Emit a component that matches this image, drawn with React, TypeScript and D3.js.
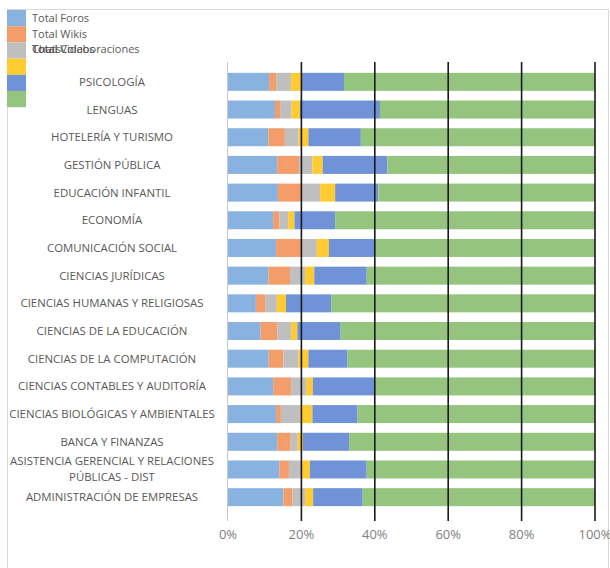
import React from "react";
import * as d3 from "d3";

const categories = [
  "PSICOLOGÍA",
  "LENGUAS",
  "HOTELERÍA Y TURISMO",
  "GESTIÓN PÚBLICA",
  "EDUCACIÓN INFANTIL",
  "ECONOMÍA",
  "COMUNICACIÓN SOCIAL",
  "CIENCIAS JURÍDICAS",
  "CIENCIAS HUMANAS Y RELIGIOSAS",
  "CIENCIAS DE LA EDUCACIÓN",
  "CIENCIAS DE LA COMPUTACIÓN",
  "CIENCIAS CONTABLES Y AUDITORÍA",
  "CIENCIAS BIOLÓGICAS Y AMBIENTALES",
  "BANCA Y FINANZAS",
  "ASISTENCIA GERENCIAL Y RELACIONES|PÚBLICAS - DIST",
  "ADMINISTRACIÓN DE EMPRESAS",
];

const seriesNames = ["Total Foros", "Total Wikis", "Total Colaboraciones", "Total Videos", "Chats", "Otros"];

const foros = [11.2, 12.8, 11.0, 13.4, 13.6, 12.3, 13.1, 11.0, 7.6, 8.9, 11.1, 12.3, 13.1, 13.4, 14.0, 15.1];
const wikis = [1.9, 1.4, 4.5, 6.0, 6.5, 1.7, 7.0, 5.9, 2.5, 4.6, 4.0, 4.9, 1.3, 3.7, 2.6, 2.4];
const colaboraciones = [4.1, 3.1, 3.7, 3.6, 5.0, 2.4, 4.1, 4.1, 3.2, 3.7, 4.1, 4.1, 5.2, 1.9, 3.5, 3.5];
const videos = [2.7, 2.3, 2.7, 2.8, 4.1, 1.7, 3.3, 2.5, 2.5, 1.7, 2.7, 1.8, 3.4, 1.4, 2.2, 2.2];
const chats = [11.7, 21.8, 14.3, 17.6, 11.8, 11.1, 12.4, 14.3, 12.3, 11.8, 10.7, 16.8, 12.3, 12.6, 15.5, 13.5];
const otros = [68.4, 58.6, 63.8, 56.6, 59.0, 70.8, 60.1, 62.2, 71.9, 69.3, 67.4, 60.1, 64.7, 67.0, 62.2, 63.3];

const tickValues = [0, 0.2, 0.4, 0.6, 0.8, 1.0];
const colors = ["#88b3e0", "#f39d6a", "#bfbfbf", "#ffcb30", "#6f93d6", "#94c47e"];

export default function App() {
  const W = 610, H = 568;
  const x0 = 228, x1 = 595;
  const series = [foros, wikis, colaboraciones, videos, chats, otros];
  const table = categories.map((c, i) => {
    const row: any = { cat: c };
    const tot = series.reduce((s, a) => s + a[i], 0);
    series.forEach((a, k) => (row["s" + k] = a[i] / tot));
    return row;
  });
  const keys = series.map((_, k) => "s" + k);
  const stacked = d3.stack().keys(keys)(table);
  const x = d3.scaleLinear().domain([0, 1]).range([x0, x1]);
  const y = d3.scaleBand().domain(categories).range([68, 511]).paddingInner(0.35).paddingOuter(0.175);
  const pct = d3.format(".0%");
  const textColor = "#595959";
  const font = "'Open Sans', 'Noto Sans', sans-serif";

  return (
    <svg width={W} height={H} style={{ position: "absolute", left: 0, top: 0, background: "#fff" }} fontFamily={font}>
      <rect x={7.5} y={9.5} width={601} height={H} fill="#fff" stroke="#d9d9d9" />
      {stacked.map((s, k) => (
        <g key={k} fill={colors[k]}>
          {s.map((d, i) => (
            <rect key={i} x={x(d[0])} y={y(categories[i])} width={x(d[1]) - x(d[0])} height={y.bandwidth()} />
          ))}
        </g>
      ))}
      <line x1={x(0) - 0.5} x2={x(0) - 0.5} y1={62} y2={521} stroke="#c8c8c8" />
      {tickValues.slice(1).map((t) => (
        <line key={t} x1={x(t)} x2={x(t)} y1={62} y2={521} stroke="#1a1a1a" strokeWidth={1.6} />
      ))}
      {tickValues.map((t) => (
        <text key={t} x={x(t)} y={539} textAnchor="middle" fontSize={13} fill="#808080">
          {pct(t)}
        </text>
      ))}
      {categories.map((c) => {
        const parts = c.split("|");
        const cy = (y(c) as number) + y.bandwidth() / 2;
        return parts.map((p, j) => (
          <text key={c + j} x={112} y={cy + 4 + (j - (parts.length - 1) / 2) * 16} textAnchor="middle" fontSize={11.4} fill={textColor}>
            {p}
          </text>
        ));
      })}
      {colors.map((c, k) => (
        <rect key={k} x={7} y={10 + k * 16.2} width={19} height={16.2} fill={c} />
      ))}
      <text x={32} y={22} fontSize={11} fill={textColor}>{seriesNames[0]}</text>
      <text x={32} y={38} fontSize={11} fill={textColor}>{seriesNames[1]}</text>
      <text x={32} y={53} fontSize={11} fill={textColor}>{seriesNames[2]}</text>
      <text x={32} y={53} fontSize={11} fill={textColor}>{seriesNames[3]}</text>
      <text x={32} y={53} fontSize={11} fill={textColor}>{seriesNames[4]}</text>
    </svg>
  );
}
